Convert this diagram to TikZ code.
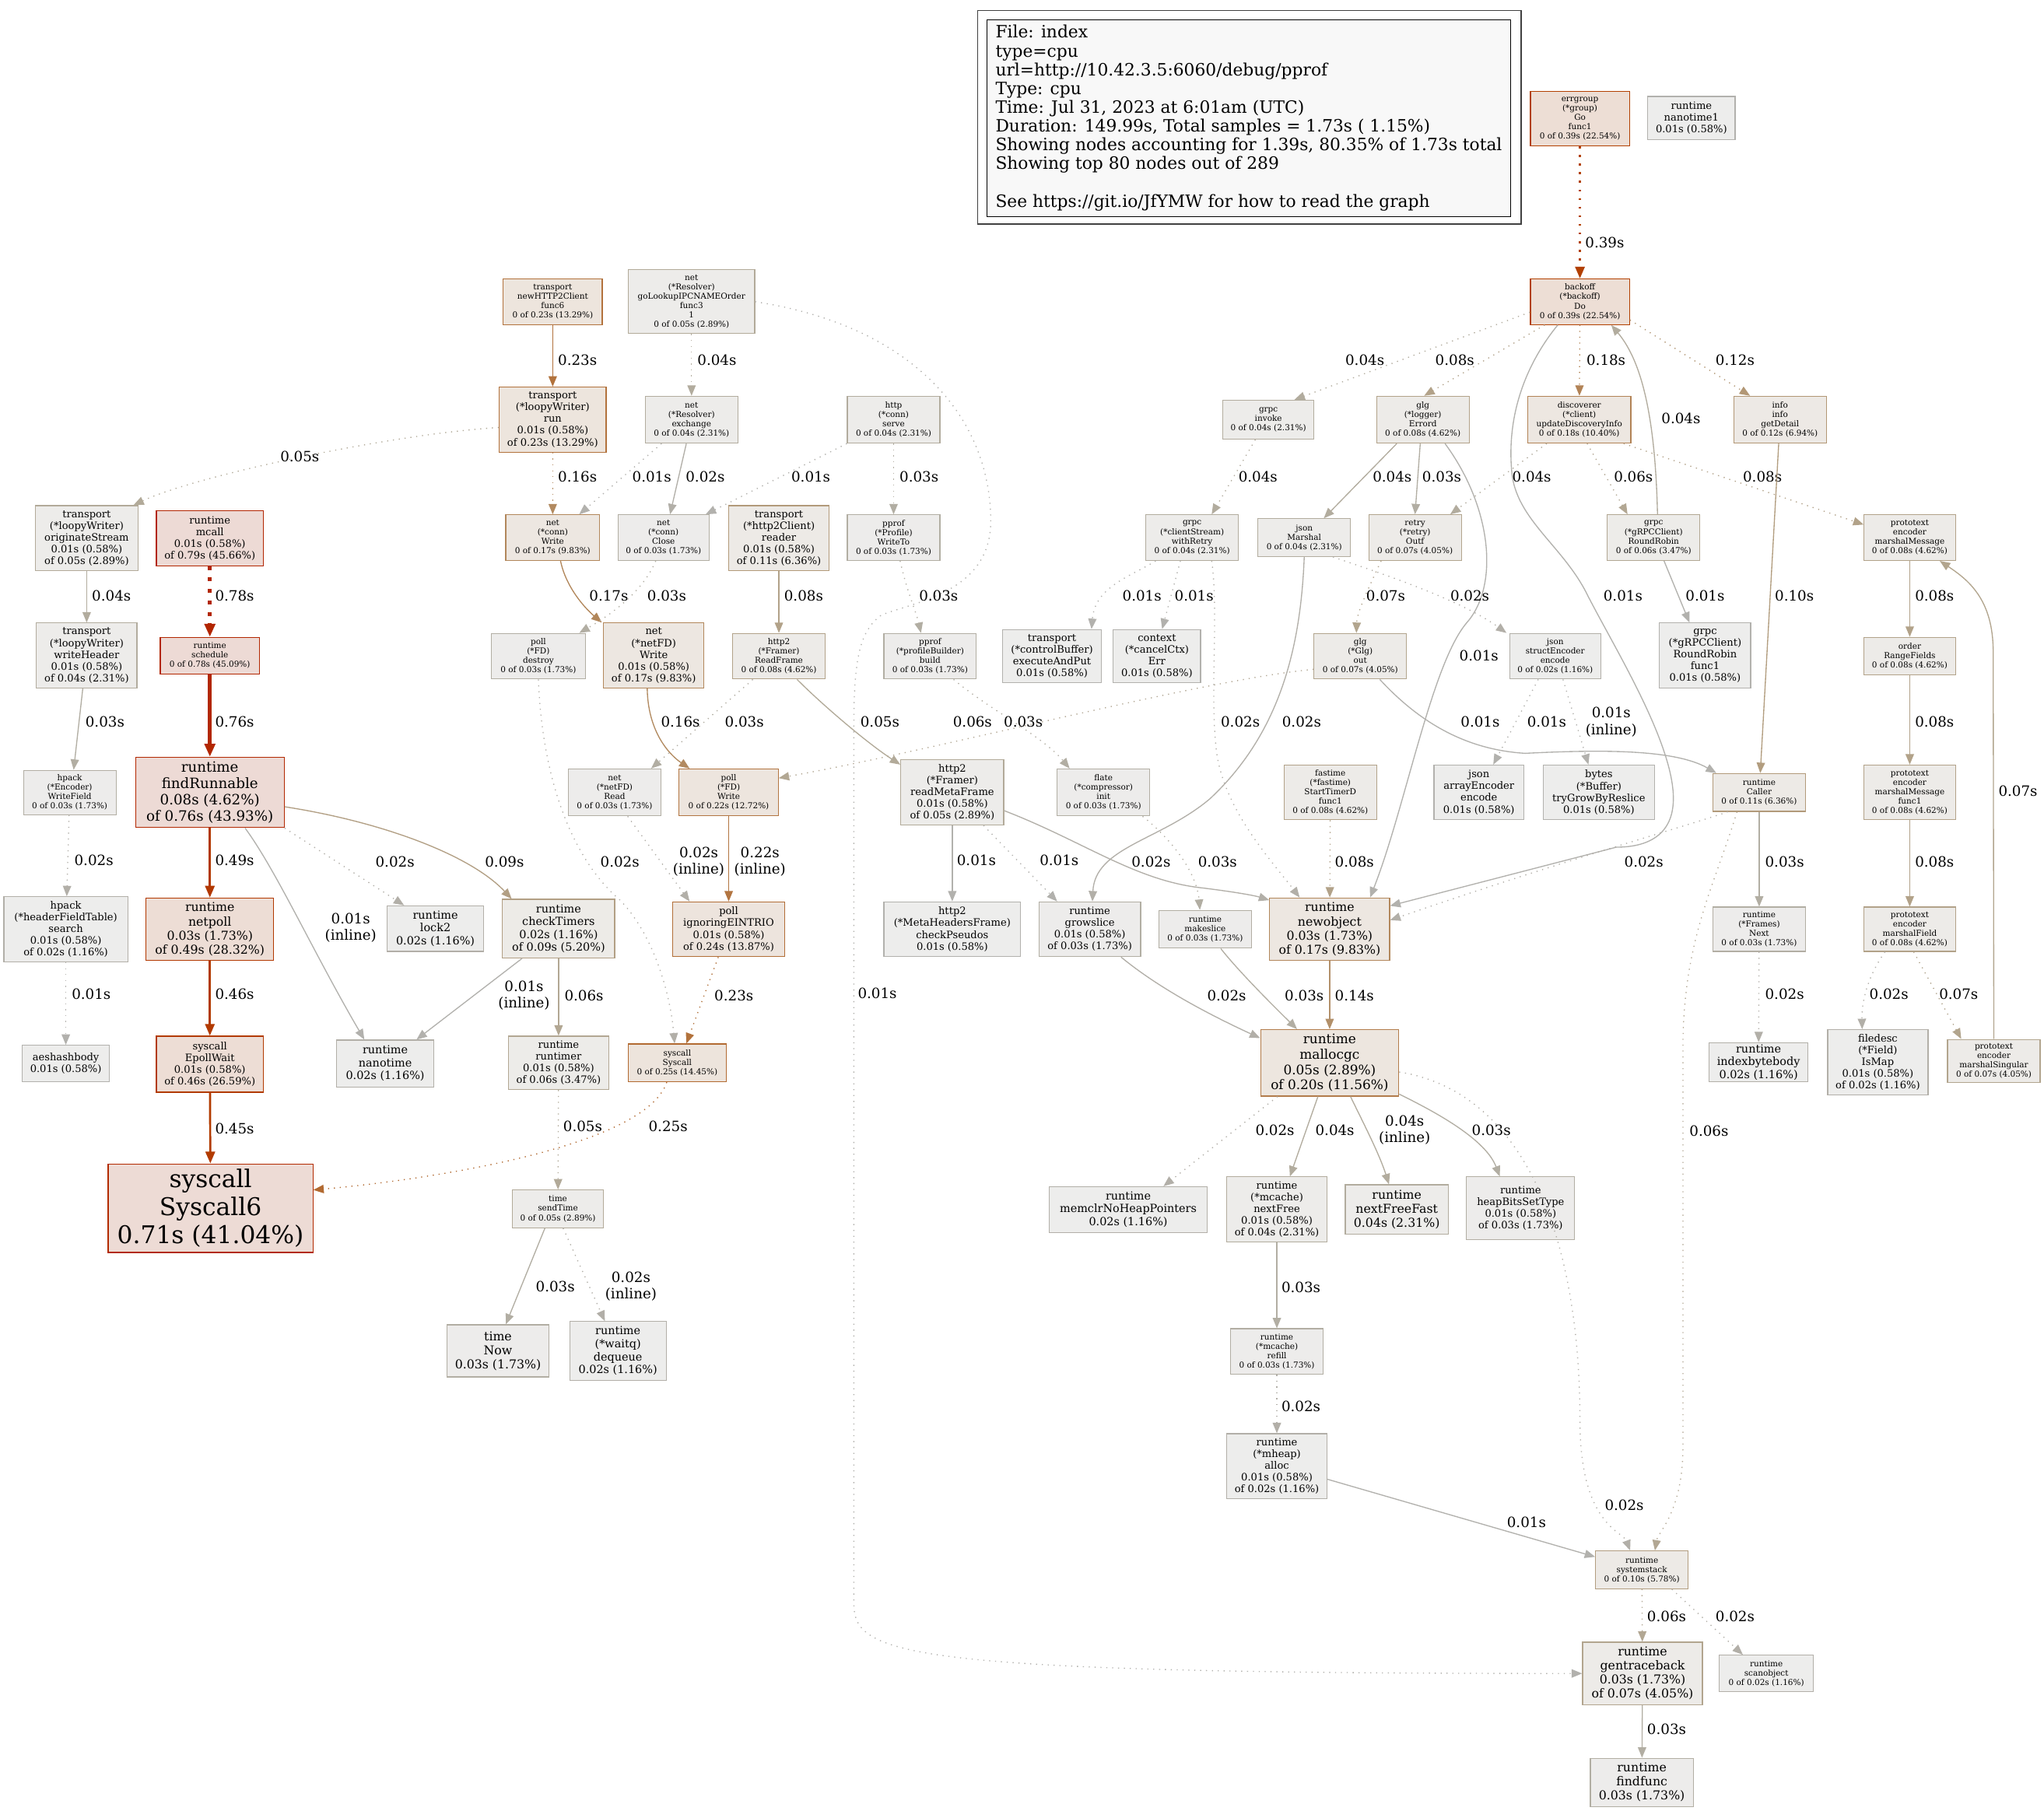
\documentclass[tikz,border=0pt]{standalone}
\usepackage{fontspec}
\setmainfont{DejaVu Serif}
\usetikzlibrary{arrows.meta}
% edge and border colours, by seconds
\definecolor{e001}{RGB}{178,177,173}
\definecolor{e002}{RGB}{178,175,168}
\definecolor{e003}{RGB}{178,174,163}
\definecolor{e004}{RGB}{178,172,158}
\definecolor{e005}{RGB}{178,170,153}
\definecolor{e006}{RGB}{178,167,147}
\definecolor{e007}{RGB}{178,165,142}
\definecolor{e008}{RGB}{178,162,137}
\definecolor{e009}{RGB}{178,159,132}
\definecolor{e010}{RGB}{178,157,127}
\definecolor{e011}{RGB}{178,154,122}
\definecolor{e012}{RGB}{178,151,117}
\definecolor{e014}{RGB}{178,144,106}
\definecolor{e016}{RGB}{178,138,96}
\definecolor{e017}{RGB}{178,135,91}
\definecolor{e018}{RGB}{178,131,86}
\definecolor{e020}{RGB}{178,124,75}
\definecolor{e022}{RGB}{178,117,65}
\definecolor{e023}{RGB}{178,114,60}
\definecolor{e024}{RGB}{178,110,55}
\definecolor{e025}{RGB}{178,106,49}
\definecolor{e039}{RGB}{178,64,0}
\definecolor{e045}{RGB}{178,59,0}
\definecolor{e046}{RGB}{178,58,0}
\definecolor{e049}{RGB}{178,56,0}
\definecolor{e071}{RGB}{178,42,0}
\definecolor{e076}{RGB}{178,39,0}
\definecolor{e078}{RGB}{178,38,0}
\definecolor{e079}{RGB}{178,37,0}
% node fills
\definecolor{g001}{RGB}{237,237,236}
\definecolor{g002}{RGB}{237,237,236}
\definecolor{g003}{RGB}{237,236,235}
\definecolor{g004}{RGB}{237,236,234}
\definecolor{g005}{RGB}{237,236,234}
\definecolor{g006}{RGB}{237,236,233}
\definecolor{g007}{RGB}{237,235,232}
\definecolor{g008}{RGB}{237,235,232}
\definecolor{g009}{RGB}{237,235,231}
\definecolor{g010}{RGB}{237,234,230}
\definecolor{g011}{RGB}{237,234,230}
\definecolor{g012}{RGB}{237,233,229}
\definecolor{g017}{RGB}{237,231,225}
\definecolor{g018}{RGB}{237,231,225}
\definecolor{g020}{RGB}{237,230,223}
\definecolor{g022}{RGB}{237,229,222}
\definecolor{g023}{RGB}{237,229,221}
\definecolor{g024}{RGB}{237,228,221}
\definecolor{g025}{RGB}{237,228,220}
\definecolor{g039}{RGB}{237,222,213}
\definecolor{g046}{RGB}{237,221,213}
\definecolor{g049}{RGB}{237,221,213}
\definecolor{g071}{RGB}{237,219,213}
\definecolor{g076}{RGB}{237,218,213}
\definecolor{g078}{RGB}{237,218,213}
\definecolor{g079}{RGB}{237,218,213}
\definecolor{legendfill}{RGB}{248,248,248}
\begin{document}
\begin{tikzpicture}[x=1pt,y=-1pt,
  fn/.style={draw, rectangle, inner sep=0pt, align=center, line width=0.7pt, text=black},
  f8/.style={font=\fontsize{6.25pt}{7.2pt}\selectfont},
  f10/.style={font=\fontsize{7.8pt}{9pt}\selectfont},
  f11/.style={font=\fontsize{8.6pt}{9.9pt}\selectfont},
  f12/.style={font=\fontsize{9.4pt}{10.8pt}\selectfont},
  f13/.style={font=\fontsize{10.1pt}{11.7pt}\selectfont},
  f14/.style={font=\fontsize{10.9pt}{12.6pt}\selectfont},
  f24/.style={font=\fontsize{18.7pt}{21.6pt}\selectfont},
  lbl/.style={font=\fontsize{10.9pt}{12.6pt}\selectfont, text=black, inner sep=0pt, align=center},
  callline/.style={line width=0.8pt, -{Triangle[length=8pt,width=6.4pt]}},
  dotline/.style={callline, dash pattern=on 0.8pt off 3.7pt},
  thickline/.style={line width=1.6pt, -{Triangle[length=9pt,width=7.2pt]}},
  thickdot/.style={thickline, dash pattern=on 1.6pt off 5pt},
  heavyline/.style={line width=2.8pt, -{Triangle[length=10pt,width=8pt]}},
  heavydot/.style={heavyline, dash pattern=on 3pt off 5.8pt}]
\useasboundingbox (0,0) rectangle (1568,1389);
\fill[white] (0,0) rectangle (1568,1389);

% legend
\node[draw=black!75, line width=1pt, minimum width=417pt, minimum height=164pt] (legendframe) at (958.5,90) {};
\node[draw=black, fill=legendfill, line width=0.7pt, minimum width=402pt, minimum height=151pt, inner sep=0pt, align=left, font=\fontsize{13pt}{14.4pt}\selectfont] (legend) at (958,90.5) {File: index\\type=cpu\\url=http://10.42.3.5:6060/debug/pprof\\Type: cpu\\Time: Jul 31, 2023 at 6:01am (UTC)\\Duration: 149.99s, Total samples = 1.73s ( 1.15\%)\\Showing nodes accounting for 1.39s, 80.35\% of 1.73s total\\Showing top 80 nodes out of 289\\[14.4pt]See https://git.io/JfYMW for how to read the graph};

% rank 0
\node[fn, f8, draw=e039, fill=g039, minimum width=76pt, minimum height=42pt] (errgroup) at (1212,91) {errgroup\\(*group)\\Go\\func1\\0 of 0.39s (22.54\%)};
\node[fn, f10, draw=e001, fill=g001, minimum width=67pt, minimum height=33pt] (nanotimeone) at (1297.5,90.5) {runtime\\nanotime1\\0.01s (0.58\%)};
% rank 1
\node[fn, f8, draw=e039, fill=g039, minimum width=76pt, minimum height=35pt] (backoff) at (1212,231.5) {backoff\\(*backoff)\\Do\\0 of 0.39s (22.54\%)};
\node[fn, f8, draw=e023, fill=g023, minimum width=76pt, minimum height=35pt] (newclient) at (424,231.5) {transport\\newHTTP2Client\\func6\\0 of 0.23s (13.29\%)};
\node[fn, f8, draw=e005, fill=g005, minimum width=97pt, minimum height=49pt] (golookup) at (530.5,231.5) {net\\(*Resolver)\\goLookupIPCNAMEOrder\\func3\\1\\0 of 0.05s (2.89\%)};
% rank 2
\node[fn, f10, draw=e023, fill=g023, minimum width=82pt, minimum height=50pt] (looprun) at (424,322) {transport\\(*loopyWriter)\\run\\0.01s (0.58\%)\\of 0.23s (13.29\%)};
\node[fn, f8, draw=e004, fill=g004, minimum width=71pt, minimum height=36pt] (exchange) at (530.5,322) {net\\(*Resolver)\\exchange\\0 of 0.04s (2.31\%)};
\node[fn, f8, draw=e004, fill=g004, minimum width=71pt, minimum height=36pt] (serve) at (685.5,322) {http\\(*conn)\\serve\\0 of 0.04s (2.31\%)};
\node[fn, f8, draw=e004, fill=g004, minimum width=70pt, minimum height=30pt] (invoke) at (973,322) {grpc\\invoke\\0 of 0.04s (2.31\%)};
\node[fn, f8, draw=e008, fill=g008, minimum width=71pt, minimum height=36pt] (errord) at (1091.5,322) {glg\\(*logger)\\Errord\\0 of 0.08s (4.62\%)};
\node[fn, f8, draw=e018, fill=g018, minimum width=79pt, minimum height=36pt] (discoverer) at (1211.5,322) {discoverer\\(*client)\\updateDiscoveryInfo\\0 of 0.18s (10.40\%)};
\node[fn, f8, draw=e012, fill=g012, minimum width=71pt, minimum height=36pt] (getdetail) at (1365.5,322) {info\\info\\getDetail\\0 of 0.12s (6.94\%)};
% rank 3
\node[fn, f10, draw=e005, fill=g005, minimum width=79pt, minimum height=50pt] (originate) at (66.5,413) {transport\\(*loopyWriter)\\originateStream\\0.01s (0.58\%)\\of 0.05s (2.89\%)};
\node[fn, f10, draw=e079, fill=g079, minimum width=82pt, minimum height=42pt] (mcall) at (161,413) {runtime\\mcall\\0.01s (0.58\%)\\of 0.79s (45.66\%)};
\node[fn, f8, draw=e017, fill=g017, minimum width=72pt, minimum height=35pt] (connwrite) at (424,412.5) {net\\(*conn)\\Write\\0 of 0.17s (9.83\%)};
\node[fn, f8, draw=e003, fill=g003, minimum width=70pt, minimum height=35pt] (connclose) at (509,412.5) {net\\(*conn)\\Close\\0 of 0.03s (1.73\%)};
\node[fn, f10, draw=e011, fill=g011, minimum width=77pt, minimum height=50pt] (reader) at (597.5,413) {transport\\(*http2Client)\\reader\\0.01s (0.58\%)\\of 0.11s (6.36\%)};
\node[fn, f8, draw=e003, fill=g003, minimum width=71pt, minimum height=35pt] (writeto) at (685.5,412.5) {pprof\\(*Profile)\\WriteTo\\0 of 0.03s (1.73\%)};
\node[fn, f8, draw=e004, fill=g004, minimum width=71pt, minimum height=35pt] (withretry) at (914.5,412.5) {grpc\\(*clientStream)\\withRetry\\0 of 0.04s (2.31\%)};
\node[fn, f8, draw=e004, fill=g004, minimum width=71pt, minimum height=29pt] (marshal) at (1000.5,412.5) {json\\Marshal\\0 of 0.04s (2.31\%)};
\node[fn, f8, draw=e007, fill=g007, minimum width=71pt, minimum height=35pt] (outf) at (1085.5,412.5) {retry\\(*retry)\\Outf\\0 of 0.07s (4.05\%)};
\node[fn, f8, draw=e006, fill=g006, minimum width=71pt, minimum height=35pt] (roundrobin) at (1268.5,412.5) {grpc\\(*gRPCClient)\\RoundRobin\\0 of 0.06s (3.47\%)};
\node[fn, f8, draw=e008, fill=g008, minimum width=70pt, minimum height=35pt] (marshalmsg) at (1465,412.5) {prototext\\encoder\\marshalMessage\\0 of 0.08s (4.62\%)};
% rank 4
\node[fn, f10, draw=e004, fill=g004, minimum width=77pt, minimum height=50pt] (writeheader) at (66.5,503) {transport\\(*loopyWriter)\\writeHeader\\0.01s (0.58\%)\\of 0.04s (2.31\%)};
\node[fn, f8, draw=e078, fill=g078, minimum width=76pt, minimum height=28pt] (schedule) at (161,503) {runtime\\schedule\\0 of 0.78s (45.09\%)};
\node[fn, f8, draw=e003, fill=g003, minimum width=72pt, minimum height=35pt] (destroy) at (413,503.5) {poll\\(*FD)\\destroy\\0 of 0.03s (1.73\%)};
\node[fn, f10, draw=e017, fill=g017, minimum width=77pt, minimum height=50pt] (netfdwrite) at (501.5,503) {net\\(*netFD)\\Write\\0.01s (0.58\%)\\of 0.17s (9.83\%)};
\node[fn, f8, draw=e008, fill=g008, minimum width=71pt, minimum height=35pt] (readframe) at (597.5,503.5) {http2\\(*Framer)\\ReadFrame\\0 of 0.08s (4.62\%)};
\node[fn, f8, draw=e003, fill=g003, minimum width=71pt, minimum height=35pt] (build) at (713.5,503.5) {pprof\\(*profileBuilder)\\build\\0 of 0.03s (1.73\%)};
\node[fn, f10, draw=e001, fill=g001, minimum width=76pt, minimum height=41pt] (ctrlbuf) at (807,503.5) {transport\\(*controlBuffer)\\executeAndPut\\0.01s (0.58\%)};
\node[fn, f10, draw=e001, fill=g001, minimum width=67pt, minimum height=41pt] (cancelctx) at (887.5,503.5) {context\\(*cancelCtx)\\Err\\0.01s (0.58\%)};
\node[fn, f8, draw=e007, fill=g007, minimum width=71pt, minimum height=35pt] (glgout) at (1043.5,503.5) {glg\\(*Glg)\\out\\0 of 0.07s (4.05\%)};
\node[fn, f8, draw=e002, fill=g002, minimum width=70pt, minimum height=35pt] (structenc) at (1193,503.5) {json\\structEncoder\\encode\\0 of 0.02s (1.16\%)};
\node[fn, f10, draw=e001, fill=g001, minimum width=70pt, minimum height=50pt] (rrfunc) at (1308,503) {grpc\\(*gRPCClient)\\RoundRobin\\func1\\0.01s (0.58\%)};
\node[fn, f8, draw=e008, fill=g008, minimum width=70pt, minimum height=29pt] (rangefields) at (1465,503.5) {order\\RangeFields\\0 of 0.08s (4.62\%)};
% rank 5
\node[fn, f8, draw=e003, fill=g003, minimum width=71pt, minimum height=34pt] (writefield) at (53.5,608) {hpack\\(*Encoder)\\WriteField\\0 of 0.03s (1.73\%)};
\node[fn, f14, draw=e076, fill=g076, minimum width=114pt, minimum height=54pt] (findrunnable) at (161,608) {runtime\\findRunnable\\0.08s (4.62\%)\\of 0.76s (43.93\%)};
\node[fn, f8, draw=e003, fill=g003, minimum width=71pt, minimum height=36pt] (netfdread) at (471.5,608) {net\\(*netFD)\\Read\\0 of 0.03s (1.73\%)};
\node[fn, f8, draw=e022, fill=g022, minimum width=76pt, minimum height=36pt] (pollwrite) at (559,608) {poll\\(*FD)\\Write\\0 of 0.22s (12.72\%)};
\node[fn, f10, draw=e005, fill=g005, minimum width=79pt, minimum height=50pt] (readmeta) at (730.5,608) {http2\\(*Framer)\\readMetaFrame\\0.01s (0.58\%)\\of 0.05s (2.89\%)};
\node[fn, f8, draw=e003, fill=g003, minimum width=71pt, minimum height=36pt] (flateinit) at (846.5,608) {flate\\(*compressor)\\init\\0 of 0.03s (1.73\%)};
\node[fn, f8, draw=e008, fill=g008, minimum width=71pt, minimum height=42pt] (fastime) at (1020.5,608) {fastime\\(*fastime)\\StartTimerD\\func1\\0 of 0.08s (4.62\%)};
\node[fn, f10, draw=e001, fill=g001, minimum width=69pt, minimum height=42pt] (arrayenc) at (1134.5,608) {json\\arrayEncoder\\encode\\0.01s (0.58\%)};
\node[fn, f10, draw=e001, fill=g001, minimum width=85pt, minimum height=42pt] (bytesbuf) at (1226.5,608) {bytes\\(*Buffer)\\tryGrowByReslice\\0.01s (0.58\%)};
\node[fn, f8, draw=e011, fill=g011, minimum width=71pt, minimum height=29pt] (caller) at (1349.5,608) {runtime\\Caller\\0 of 0.11s (6.36\%)};
\node[fn, f8, draw=e008, fill=g008, minimum width=70pt, minimum height=42pt] (msgfunc) at (1465,608) {prototext\\encoder\\marshalMessage\\func1\\0 of 0.08s (4.62\%)};
% rank 6
\node[fn, f10, draw=e002, fill=g002, minimum width=95pt, minimum height=50pt] (fieldsearch) at (50.5,713) {hpack\\(*headerFieldTable)\\search\\0.01s (0.58\%)\\of 0.02s (1.16\%)};
\node[fn, f12, draw=e049, fill=g049, minimum width=98pt, minimum height=48pt] (netpoll) at (161,713) {runtime\\netpoll\\0.03s (1.73\%)\\of 0.49s (28.32\%)};
\node[fn, f11, draw=e002, fill=g002, minimum width=74pt, minimum height=35pt] (lock) at (334,712.5) {runtime\\lock2\\0.02s (1.16\%)};
\node[fn, f11, draw=e009, fill=g009, minimum width=86pt, minimum height=45pt] (checktimers) at (428.5,712.5) {runtime\\checkTimers\\0.02s (1.16\%)\\of 0.09s (5.20\%)};
\node[fn, f10, draw=e024, fill=g024, minimum width=86pt, minimum height=42pt] (eintr) at (559,713) {poll\\ignoringEINTRIO\\0.01s (0.58\%)\\of 0.24s (13.87\%)};
\node[fn, f10, draw=e001, fill=g001, minimum width=105pt, minimum height=42pt] (checkpseudos) at (730.5,713) {http2\\(*MetaHeadersFrame)\\checkPseudos\\0.01s (0.58\%)};
\node[fn, f10, draw=e003, fill=g003, minimum width=78pt, minimum height=42pt] (growslice) at (836,713) {runtime\\growslice\\0.01s (0.58\%)\\of 0.03s (1.73\%)};
\node[fn, f8, draw=e003, fill=g003, minimum width=71pt, minimum height=29pt] (makeslice) at (924.5,713) {runtime\\makeslice\\0 of 0.03s (1.73\%)};
\node[fn, f12, draw=e017, fill=g017, minimum width=92pt, minimum height=48pt] (newobject) at (1020,713) {runtime\\newobject\\0.03s (1.73\%)\\of 0.17s (9.83\%)};
\node[fn, f8, draw=e003, fill=g003, minimum width=71pt, minimum height=34pt] (framesnext) at (1349.5,713) {runtime\\(*Frames)\\Next\\0 of 0.03s (1.73\%)};
\node[fn, f8, draw=e008, fill=g008, minimum width=70pt, minimum height=34pt] (marshalfield) at (1465,713) {prototext\\encoder\\marshalField\\0 of 0.08s (4.62\%)};
% rank 7
\node[fn, f10, draw=e001, fill=g001, minimum width=67pt, minimum height=28pt] (aeshash) at (50.5,816) {aeshashbody\\0.01s (0.58\%)};
\node[fn, f10, draw=e046, fill=g046, minimum width=82pt, minimum height=43pt] (epollwait) at (161,816.5) {syscall\\EpollWait\\0.01s (0.58\%)\\of 0.46s (26.59\%)};
\node[fn, f11, draw=e002, fill=g002, minimum width=75pt, minimum height=36pt] (nanotime) at (295.5,816) {runtime\\nanotime\\0.02s (1.16\%)};
\node[fn, f10, draw=e006, fill=g006, minimum width=77pt, minimum height=41pt] (runtimer) at (428.5,815.5) {runtime\\runtimer\\0.01s (0.58\%)\\of 0.06s (3.47\%)};
\node[fn, f8, draw=e025, fill=g025, minimum width=75pt, minimum height=29pt] (syscall) at (519.5,815.5) {syscall\\Syscall\\0 of 0.25s (14.45\%)};
\node[fn, f13, draw=e020, fill=g020, minimum width=106pt, minimum height=51pt] (mallocgc) at (1020,815.5) {runtime\\mallocgc\\0.05s (2.89\%)\\of 0.20s (11.56\%)};
\node[fn, f11, draw=e002, fill=g002, minimum width=76pt, minimum height=30pt] (indexbyte) at (1349,815) {runtime\\indexbytebody\\0.02s (1.16\%)};
\node[fn, f10, draw=e002, fill=g002, minimum width=77pt, minimum height=50pt] (ismap) at (1440.5,815) {filedesc\\(*Field)\\IsMap\\0.01s (0.58\%)\\of 0.02s (1.16\%)};
\node[fn, f8, draw=e007, fill=g007, minimum width=71pt, minimum height=33pt] (marshalsingular) at (1529.5,814) {prototext\\encoder\\marshalSingular\\0 of 0.07s (4.05\%)};
% rank 8
\node[fn, f24, draw=e071, fill=g071, minimum width=157pt, minimum height=68pt] (syscallsix) at (161.5,927) {syscall\\Syscall6\\0.71s (41.04\%)};
\node[fn, f8, draw=e005, fill=g005, minimum width=70pt, minimum height=29pt] (sendtime) at (428,927.5) {time\\sendTime\\0 of 0.05s (2.89\%)};
\node[fn, f11, draw=e002, fill=g002, minimum width=121pt, minimum height=35pt] (memclr) at (865.5,928) {runtime\\memclrNoHeapPointers\\0.02s (1.16\%)};
\node[fn, f10, draw=e004, fill=g004, minimum width=77pt, minimum height=50pt] (nextfree) at (979.5,928) {runtime\\(*mcache)\\nextFree\\0.01s (0.58\%)\\of 0.04s (2.31\%)};
\node[fn, f12, draw=e004, fill=g004, minimum width=79pt, minimum height=38pt] (nextfreefast) at (1071.5,928) {runtime\\nextFreeFast\\0.04s (2.31\%)};
\node[fn, f10, draw=e003, fill=g003, minimum width=83pt, minimum height=48pt] (heapbits) at (1166.5,927) {runtime\\heapBitsSetType\\0.01s (0.58\%)\\of 0.03s (1.73\%)};
% rank 9 and below
\node[fn, f12, draw=e003, fill=g003, minimum width=78pt, minimum height=40pt] (timenow) at (382,1036.5) {time\\Now\\0.03s (1.73\%)};
\node[fn, f11, draw=e002, fill=g002, minimum width=74pt, minimum height=45pt] (dequeue) at (474,1036.5) {runtime\\(*waitq)\\dequeue\\0.02s (1.16\%)};
\node[fn, f8, draw=e003, fill=g003, minimum width=71pt, minimum height=35pt] (refill) at (979.5,1037) {runtime\\(*mcache)\\refill\\0 of 0.03s (1.73\%)};
\node[fn, f10, draw=e002, fill=g002, minimum width=77pt, minimum height=50pt] (mheapalloc) at (979.5,1125) {runtime\\(*mheap)\\alloc\\0.01s (0.58\%)\\of 0.02s (1.16\%)};
\node[fn, f8, draw=e010, fill=g010, minimum width=71pt, minimum height=29pt] (systemstack) at (1259.5,1204.5) {runtime\\systemstack\\0 of 0.10s (5.78\%)};
\node[fn, f12, draw=e007, fill=g007, minimum width=92pt, minimum height=48pt] (gentraceback) at (1260,1284) {runtime\\gentraceback\\0.03s (1.73\%)\\of 0.07s (4.05\%)};
\node[fn, f8, draw=e002, fill=g002, minimum width=72pt, minimum height=28pt] (scanobject) at (1355,1284) {runtime\\scanobject\\0 of 0.02s (1.16\%)};
\node[fn, f12, draw=e003, fill=g003, minimum width=79pt, minimum height=37pt] (findfunc) at (1259.5,1367.5) {runtime\\findfunc\\0.03s (1.73\%)};

% calls out of the top rows
\draw[thickdot, e039] (errgroup) -- (backoff) node[lbl, at={(1231,186)}] {0.39s};
\draw[callline, e023] (newclient) -- (looprun) node[lbl, at={(443,276)}] {0.23s};
\draw[dotline, e004] (golookup) -- (exchange) node[lbl, at={(550,276)}] {0.04s};
\draw[dotline, e001] (golookup.east) .. controls (700,250) and (760,320) .. (760,400) .. controls (760,455) and (700,462) .. (676,472) .. controls (658,485) and (655,510) .. (655,560) -- (655,1230) .. controls (655,1270) and (690,1284) .. (gentraceback.west) node[lbl, at={(673,762)}] {0.01s};
\draw[dotline, e005] ([yshift=-6pt]looprun.west) .. controls (300,333) and (150,365) .. ([xshift=-4pt]originate.north east) node[lbl, at={(230,350)}] {0.05s};
\draw[dotline, e016] (looprun) -- (connwrite) node[lbl, at={(443,366)}] {0.16s};
\draw[dotline, e001] ([xshift=-23pt]exchange.south) -- ([xshift=-16pt]connwrite.north east) node[lbl, at={(500,366)}] {0.01s};
\draw[callline, e002] ([xshift=-4pt]exchange.south) -- ([xshift=5pt]connclose.north) node[lbl, at={(541,366)}] {0.02s};
\draw[dotline, e001] (serve.south west) -- ([xshift=-3pt]connclose.north east) node[lbl, at={(622,366)}] {0.01s};
\draw[dotline, e003] (serve) -- (writeto) node[lbl, at={(705,366)}] {0.03s};
\draw[callline, e017] ([xshift=6pt]connwrite.south) .. controls (434,450) and (448,466) .. ([xshift=-1pt]netfdwrite.north west) node[lbl, at={(467,457)}] {0.17s};
\draw[dotline, e003] ([xshift=-6pt]connclose.south) .. controls (495,450) and (475,468) .. ([xshift=-5pt]destroy.north east) node[lbl, at={(511.5,457)}] {0.03s};
\draw[callline, e008] (reader) -- (readframe) node[lbl, at={(616.5,457)}] {0.08s};
\draw[dotline, e003] ([xshift=5pt]writeto.south) .. controls (696,455) and (703,470) .. ([xshift=-7pt]build.north) node[lbl, at={(720,457)}] {0.03s};
% scheduler column
\draw[heavydot, e078] (mcall) -- (schedule) node[lbl, at={(180,457)}] {0.78s};
\draw[heavyline, e076] (schedule) -- (findrunnable) node[lbl, at={(180,554)}] {0.76s};
\draw[thickline, e049] (findrunnable) -- (netpoll) node[lbl, at={(180,660)}] {0.49s};
\draw[thickline, e046] (netpoll) -- (epollwait) node[lbl, at={(180,763)}] {0.46s};
\draw[thickline, e045] (epollwait) -- (syscallsix) node[lbl, at={(180,866)}] {0.45s};
\draw[callline, e001] ([xshift=27pt]findrunnable.south) .. controls (212,668) and (240,730) .. ([xshift=-16pt]nanotime.north) node[lbl, at={(269,712)}] {0.01s\\(inline)};
\draw[dotline, e002] (findrunnable.south east) -- ([xshift=-24pt]lock.north) node[lbl, at={(303,661)}] {0.02s};
\draw[callline, e009] ([yshift=-11pt]findrunnable.east) .. controls (290,630) and (360,655) .. ([xshift=-36pt]checktimers.north) node[lbl, at={(387,661)}] {0.09s};
\draw[callline, e001] ([xshift=-28pt]checktimers.south) -- ([xshift=24pt]nanotime.north) node[lbl, at={(402,764)}] {0.01s\\(inline)};
\draw[callline, e006] (checktimers) -- (runtimer) node[lbl, at={(448,764)}] {0.06s};
\draw[dotline, e005] (runtimer) -- (sendtime) node[lbl, at={(447,864)}] {0.05s};
\draw[callline, e003] ([xshift=-10pt]sendtime.south) -- ([xshift=6pt]timenow.north) node[lbl, at={(426,987)}] {0.03s};
\draw[dotline, e002] ([xshift=4pt]sendtime.south) -- ([xshift=-10pt]dequeue.north) node[lbl, at={(484,987)}] {0.02s\\(inline)};
% transport column
\draw[callline, e004] (originate) -- (writeheader) node[lbl, at={(85.5,457)}] {0.04s};
\draw[callline, e003] ([xshift=-3pt]writeheader.south) -- ([xshift=3pt]writefield.north) node[lbl, at={(80.5,554)}] {0.03s};
\draw[dotline, e002] (writefield) -- (fieldsearch) node[lbl, at={(72,660)}] {0.02s};
\draw[dotline, e001] (fieldsearch) -- (aeshash) node[lbl, at={(70,763)}] {0.01s};
% net and poll
\draw[dotline, e002] (destroy.south) .. controls (416,600) and (440,660) .. (475,690) .. controls (500,715) and (514,760) .. ([xshift=-2pt]syscall.north) node[lbl, at={(475.5,661)}] {0.02s};
\draw[callline, e016] ([xshift=-5pt]netfdwrite.south) .. controls (497,560) and (512,578) .. ([xshift=-30pt]pollwrite.north) node[lbl, at={(522,554)}] {0.16s};
\draw[dotline, e003] ([xshift=-20pt]readframe.south) -- ([xshift=28pt]netfdread.north) node[lbl, at={(571,554)}] {0.03s};
\draw[callline, e005] ([xshift=14pt]readframe.south) .. controls (630,540) and (665,570) .. ([yshift=-4pt]readmeta.north west) node[lbl, at={(675,554)}] {0.05s};
\draw[dotline, e002] ([xshift=10pt]netfdread.south) -- ([xshift=-30pt]eintr.north) node[lbl, at={(536,661)}] {0.02s\\(inline)};
\draw[callline, e022] (pollwrite) -- (eintr) node[lbl, at={(583,661)}] {0.22s\\(inline)};
\draw[dotline, e023] ([xshift=-8pt]eintr.south) -- ([xshift=7pt]syscall.north) node[lbl, at={(563,764)}] {0.23s};
\draw[dotline, e025] ([xshift=-8pt]syscall.south) .. controls (495,880) and (330,905) .. ([yshift=14pt]syscallsix.east) node[lbl, at={(512.5,864)}] {0.25s};
% http2 and allocation
\draw[callline, e001] (readmeta) -- (checkpseudos) node[lbl, at={(749,660)}] {0.01s};
\draw[dotline, e001] ([xshift=24pt]readmeta.south) -- ([xshift=-25pt]growslice.north) node[lbl, at={(812.5,660)}] {0.01s};
\draw[callline, e002] ([yshift=-14pt]readmeta.east) .. controls (830,645) and (870,675) .. (920,681) .. controls (945,684) and (962,687) .. ([yshift=-2pt]newobject.north west) node[lbl, at={(883,661)}] {0.02s};
\draw[dotline, e003] ([xshift=18pt]build.south) .. controls (760,545) and (800,565) .. ([xshift=-26pt]flateinit.north) node[lbl, at={(785,554)}] {0.03s};
\draw[dotline, e003] ([xshift=30pt]flateinit.south) .. controls (900,645) and (918,670) .. ([xshift=-4pt]makeslice.north) node[lbl, at={(934,661)}] {0.03s};
\draw[dotline, e006] ([yshift=-10pt]glgout.west) .. controls (920,522) and (720,575) .. ([yshift=11pt]pollwrite.east) node[lbl, at={(746,554)}] {0.06s};
\draw[callline, e002] (marshal.south) .. controls (998,490) and (985,560) .. (928,613) .. controls (890,645) and (840,650) .. ([xshift=2pt]growslice.north) node[lbl, at={(998.5,554)}] {0.02s};
\draw[dotline, e002] ([xshift=15pt]withretry.south) .. controls (935,470) and (928,530) .. (933,575) .. controls (938,620) and (975,660) .. ([xshift=-23pt]newobject.north) node[lbl, at={(951.5,554)}] {0.02s};
\draw[dotline, e008] (fastime) -- (newobject) node[lbl, at={(1039,661)}] {0.08s};
\draw[callline, e001] ([xshift=17pt]errord.south) .. controls (1145,390) and (1150,450) .. (1125,478) .. controls (1098,510) and (1078,620) .. ([xshift=31pt]newobject.north) node[lbl, at={(1134.5,503)}] {0.01s};
\draw[callline, e001] ([xshift=-17pt]backoff.south) .. controls (1170,280) and (1155,320) .. (1160,365) .. controls (1165,400) and (1200,420) .. (1218,457) .. controls (1240,500) and (1290,580) .. (1283,621) .. controls (1280,640) and (1265,650) .. (1240,650) -- ([yshift=18pt]newobject.east) node[lbl, at={(1245,457)}] {0.01s};
\draw[dotline, e002] ([xshift=-24pt]caller.south) .. controls (1290,635) and (1200,660) .. ([yshift=7pt]newobject.east) node[lbl, at={(1261,661)}] {0.02s};
\draw[callline, e002] ([xshift=24pt]growslice.south) .. controls (885,755) and (920,775) .. ([yshift=19pt]mallocgc.west) node[lbl, at={(941,764)}] {0.02s};
\draw[callline, e003] ([xshift=12pt]makeslice.south) .. controls (950,745) and (975,770) .. ([xshift=-25pt]mallocgc.north) node[lbl, at={(1000.5,764)}] {0.03s};
\draw[callline, e014] (newobject) -- (mallocgc) node[lbl, at={(1039,764)}] {0.14s};
\draw[dotline, e002] ([xshift=-40pt]mallocgc.south) -- ([xshift=27pt]memclr.north) node[lbl, at={(978,867)}] {0.02s};
\draw[callline, e004] ([xshift=-9pt]mallocgc.south) -- ([xshift=10pt]nextfree.north) node[lbl, at={(1024,867)}] {0.04s};
\draw[callline, e004] ([xshift=16pt]mallocgc.south) .. controls (1045,860) and (1058,885) .. ([xshift=-6pt]nextfreefast.north) node[lbl, at={(1077.5,867)}] {0.04s\\(inline)};
\draw[callline, e003] ([yshift=-24pt]mallocgc.east) .. controls (1105,855) and (1140,875) .. ([xshift=-16pt]heapbits.north) node[lbl, at={(1144,867)}] {0.03s};
\draw[dotline, e002] ([yshift=-7pt]mallocgc.east) .. controls (1170,838) and (1212,950) .. (1212,1090) .. controls (1212,1170) and (1245,1175) .. ([xshift=-9pt]systemstack.north) node[lbl, at={(1246,1155)}] {0.02s};
\draw[callline, e003] (nextfree) -- (refill) node[lbl, at={(998,988)}] {0.03s};
\draw[dotline, e002] (refill) -- (mheapalloc) node[lbl, at={(998,1079)}] {0.02s};
\draw[callline, e001] ([yshift=-10pt]mheapalloc.east) -- ([yshift=10pt]systemstack.west) node[lbl, at={(1171,1168)}] {0.01s};
\draw[dotline, e006] (systemstack) -- (gentraceback) node[lbl, at={(1278.5,1240)}] {0.06s};
\draw[dotline, e002] ([xshift=23pt]systemstack.south) -- ([xshift=-18pt]scanobject.north) node[lbl, at={(1331,1240)}] {0.02s};
\draw[callline, e003] (gentraceback) -- (findfunc) node[lbl, at={(1278.5,1327)}] {0.03s};
% backoff fan-out
\draw[dotline, e004] ([yshift=-8pt]backoff.west) -- ([xshift=20pt]invoke.north) node[lbl, at={(1047,276)}] {0.04s};
\draw[dotline, e008] ([xshift=-27pt]backoff.south) -- ([xshift=1pt]errord.north) node[lbl, at={(1116,276)}] {0.08s};
\draw[dotline, e018] (backoff) -- (discoverer) node[lbl, at={(1232,276)}] {0.18s};
\draw[dotline, e012] ([yshift=-14pt]backoff.east) -- ([xshift=-23pt]getdetail.north) node[lbl, at={(1331,276)}] {0.12s};
\draw[callline, e004] ([xshift=3pt]roundrobin.north) .. controls (1270,330) and (1262,280) .. ([xshift=24pt]backoff.south) node[lbl, at={(1289.5,321)}] {0.04s};
\draw[dotline, e004] ([xshift=-10pt]invoke.south) -- ([xshift=15pt]withretry.north) node[lbl, at={(965,366)}] {0.04s};
\draw[callline, e004] ([xshift=-20pt]errord.south) -- ([xshift=15pt]marshal.north) node[lbl, at={(1068,366)}] {0.04s};
\draw[callline, e003] ([xshift=-2pt]errord.south) -- (outf.north) node[lbl, at={(1106,366)}] {0.03s};
\draw[dotline, e004] ([xshift=-25pt]discoverer.south) -- ([xshift=27pt]outf.north) node[lbl, at={(1175,366)}] {0.04s};
\draw[dotline, e006] ([xshift=6pt]discoverer.south) -- ([xshift=-20pt]roundrobin.north) node[lbl, at={(1253,366)}] {0.06s};
\draw[dotline, e008] ([xshift=34pt]discoverer.south) -- ([yshift=10pt]marshalmsg.west) node[lbl, at={(1352,366)}] {0.08s};
\draw[dotline, e007] ([xshift=-26pt]outf.south) .. controls (1048,455) and (1041,470) .. ([xshift=-3pt]glgout.north) node[lbl, at={(1063,457)}] {0.07s};
\draw[dotline, e002] ([xshift=22pt]marshal.south) .. controls (1060,440) and (1120,460) .. ([xshift=-2pt]structenc.north west) node[lbl, at={(1127.5,457)}] {0.02s};
\draw[dotline, e001] ([xshift=-28pt]withretry.south) .. controls (868,442) and (840,450) .. ([xshift=-8pt]ctrlbuf.north east) node[lbl, at={(876,457)}] {0.01s};
\draw[dotline, e001] ([xshift=-9pt]withretry.south) -- ([xshift=4pt]cancelctx.north) node[lbl, at={(916,457)}] {0.01s};
\draw[callline, e001] ([xshift=8pt]roundrobin.south) -- ([xshift=-12pt]rrfunc.north) node[lbl, at={(1308,457)}] {0.01s};
\draw[dotline, e001] ([xshift=-13pt]structenc.south) -- ([xshift=11pt]arrayenc.north) node[lbl, at={(1186.5,554)}] {0.01s};
\draw[dotline, e001] ([xshift=6pt]structenc.south) -- ([xshift=-8pt]bytesbuf.north) node[lbl, at={(1236,554)}] {0.01s\\(inline)};
% caller and prototext
\draw[callline, e010] (getdetail) -- (caller) node[lbl, at={(1376.5,457)}] {0.10s};
\draw[callline, e001] ([xshift=15pt]glgout.south) .. controls (1085,550) and (1120,575) .. (1170,578) .. controls (1230,575) and (1285,575) .. ([xshift=3pt]caller.north west) node[lbl, at={(1135.5,554)}] {0.01s};
\draw[dotline, e006] ([xshift=-17pt]caller.south) .. controls (1315,680) and (1292,720) .. (1291,800) -- (1291,1110) .. controls (1291,1160) and (1272,1175) .. ([xshift=10pt]systemstack.north) node[lbl, at={(1311,868)}] {0.06s};
\draw[callline, e003] (caller) -- (framesnext) node[lbl, at={(1369,661)}] {0.03s};
\draw[dotline, e002] (framesnext) -- (indexbyte) node[lbl, at={(1369,763)}] {0.02s};
\draw[callline, e008] (marshalmsg) -- (rangefields) node[lbl, at={(1484,457)}] {0.08s};
\draw[callline, e008] (rangefields) -- (msgfunc) node[lbl, at={(1484,554)}] {0.08s};
\draw[callline, e008] (msgfunc) -- (marshalfield) node[lbl, at={(1484,661)}] {0.08s};
\draw[dotline, e002] ([xshift=-19pt]marshalfield.south) .. controls (1432,750) and (1428,770) .. ([xshift=-12pt]ismap.north) node[lbl, at={(1449,763)}] {0.02s};
\draw[dotline, e007] ([xshift=3pt]marshalfield.south) -- ([xshift=-25pt]marshalsingular.north) node[lbl, at={(1502.5,763)}] {0.07s};
\draw[callline, e007] (marshalsingular.north) -- (1529,500) .. controls (1529,460) and (1510,445) .. ([xshift=23pt]marshalmsg.south) node[lbl, at={(1548,607)}] {0.07s};
\end{tikzpicture}
\end{document}
